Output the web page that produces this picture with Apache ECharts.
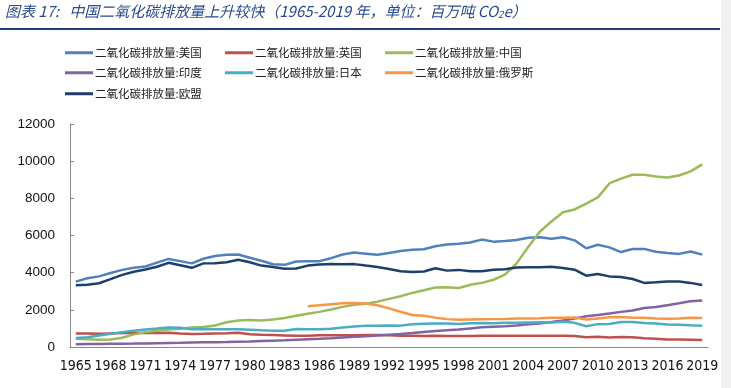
<!DOCTYPE html>
<html>
<head>
<meta charset="utf-8">
<script src="https://cdn.jsdelivr.net/npm/echarts@6/dist/echarts.min.js"></script>
<style>
html,body{margin:0;padding:0;background:#fff;}
#chart{width:731px;height:388px;}
</style>
</head>
<body>
<div id="chart"></div>
<script>
const years = ['1965','1966','1967','1968','1969','1970','1971','1972','1973','1974',
'1975','1976','1977','1978','1979','1980','1981','1982','1983','1984',
'1985','1986','1987','1988','1989','1990','1991','1992','1993','1994',
'1995','1996','1997','1998','1999','2000','2001','2002','2003','2004',
'2005','2006','2007','2008','2009','2010','2011','2012','2013','2014',
'2015','2016','2017','2018','2019'];

const usa = [3520,3700,3800,3980,4150,4260,4330,4540,4740,4620,
4500,4750,4900,4960,4980,4800,4640,4450,4420,4600,
4620,4620,4780,4980,5080,5020,4960,5060,5170,5230,
5260,5420,5520,5560,5620,5780,5670,5710,5760,5880,
5900,5820,5910,5740,5310,5500,5360,5110,5270,5280,
5130,5060,5010,5140,4970];

const uk = [720,720,710,730,750,760,750,750,770,720,
700,710,730,740,770,690,660,640,620,600,
610,630,630,630,630,640,650,630,610,600,
590,610,590,590,590,600,610,600,610,610,
610,610,600,590,530,550,510,540,520,470,
450,410,400,390,380];

const china = [450,420,390,400,500,680,800,880,940,980,
1050,1080,1160,1330,1420,1450,1420,1480,1560,1680,
1790,1890,2020,2160,2270,2330,2440,2590,2730,2910,
3050,3200,3210,3170,3350,3450,3620,3890,4500,5380,
6200,6750,7250,7400,7720,8050,8800,9060,9270,9270,
9180,9120,9230,9450,9830];

const india = [150,155,160,170,180,185,195,205,215,225,
240,250,260,270,285,300,320,340,360,390,
420,440,470,510,550,580,620,660,700,750,
810,860,900,940,1000,1060,1090,1120,1160,1220,
1270,1340,1430,1530,1650,1720,1800,1890,1960,2100,
2150,2250,2350,2460,2500];

const japan = [490,530,620,710,800,880,940,990,1050,1030,
960,970,960,950,960,930,900,880,880,970,
960,960,980,1050,1100,1140,1150,1160,1150,1230,
1250,1270,1270,1240,1280,1290,1280,1300,1310,1320,
1330,1320,1360,1300,1120,1230,1240,1340,1340,1290,
1260,1210,1200,1170,1150];

const russia = [null,null,null,null,null,null,null,null,null,null,
null,null,null,null,null,null,null,null,null,null,
2190,2250,2300,2350,2370,2340,2250,2080,1900,1720,
1680,1580,1500,1470,1480,1490,1500,1510,1540,1540,
1550,1580,1570,1590,1480,1540,1600,1610,1580,1570,
1530,1520,1530,1570,1560];

const eu = [3320,3350,3430,3650,3880,4050,4170,4320,4530,4400,
4260,4500,4510,4560,4700,4560,4380,4300,4210,4220,
4380,4440,4460,4450,4460,4380,4310,4200,4080,4030,
4060,4240,4110,4150,4080,4080,4160,4180,4280,4290,
4290,4320,4250,4160,3840,3930,3800,3770,3660,3450,
3480,3520,3530,3450,3340];

const seriesNames = ['二氧化碳排放量:美国','二氧化碳排放量:英国','二氧化碳排放量:中国',
'二氧化碳排放量:印度','二氧化碳排放量:日本','二氧化碳排放量:俄罗斯','二氧化碳排放量:欧盟'];
const seriesData = [usa, uk, china, india, japan, russia, eu];
const colors = ['#4F81BD','#C0504D','#9BBB59','#8064A2','#4BACC6','#F79646','#1F3F6B'];
const yTicks = {min:0, max:12000, interval:2000};

const legendPos = [[60,42],[220,42],[380,42],[60,62],[220,62],[380,62],[60,83]];

const chart = echarts.init(document.getElementById('chart'), null, {renderer:'canvas'});
const cjk = '"Noto Sans CJK SC", sans-serif';

const legends = seriesNames.map((n,i)=>({
  data:[n], left:legendPos[i][0], top:legendPos[i][1],
  icon:'rect', itemWidth:28, itemHeight:3, itemGap:0,
  textStyle:{fontFamily:cjk, fontSize:11.5, color:'#222', padding:[0,0,0,-3]},
  selectedMode:false
}));

chart.setOption({
  animation:false,
  color:colors,
  graphic:[
    {type:'rect', left:0, top:28, shape:{width:720, height:2}, style:{fill:'#1F3F7A'}},
    {type:'rect', left:721, top:0, shape:{width:10, height:388}, style:{fill:'#f1f1f1'}},
    {type:'text', left:5, top:4, style:{
      text:'图表 17:   中国二氧化碳排放量上升较快（1965-2019 年，单位：百万吨 CO{s|2}e）',
      fontFamily:cjk, fontSize:15, fontStyle:'italic', fill:'#2A4C8C',
      rich:{s:{fontSize:10, fontStyle:'italic', fontFamily:cjk, fill:'#2A4C8C', padding:[6,0,0,0]}}
    }}
  ],
  legend:legends,
  grid:{left:70, right:23, top:124, bottom:41, containLabel:false},
  xAxis:{
    type:'category', data:years, boundaryGap:true,
    axisLine:{lineStyle:{color:'#888', width:1}},
    axisTick:{inside:true, interval:0, length:5, lineStyle:{color:'#888'}},
    axisLabel:{interval:2, color:'#111', fontSize:14, fontFamily:'"Liberation Sans Narrow", "DejaVu Sans Condensed", sans-serif', margin:12},
    splitLine:{show:false}
  },
  yAxis:{
    type:'value', min:yTicks.min, max:yTicks.max, interval:yTicks.interval,
    axisLine:{show:true, lineStyle:{color:'#888', width:1}},
    axisTick:{show:true, inside:true, length:4, lineStyle:{color:'#888'}},
    axisLabel:{color:'#111', fontSize:13.5, fontFamily:'"Liberation Sans", sans-serif', margin:15,
      formatter:function(v){return String(v);}},
    splitLine:{show:false}
  },
  series:seriesNames.map((n,i)=>({
    name:n, type:'line', data:seriesData[i], showSymbol:false, symbol:'none',
    lineStyle:{width:2.5, color:colors[i]}, itemStyle:{color:colors[i]},
    connectNulls:false
  }))
});
</script>
</body>
</html>
